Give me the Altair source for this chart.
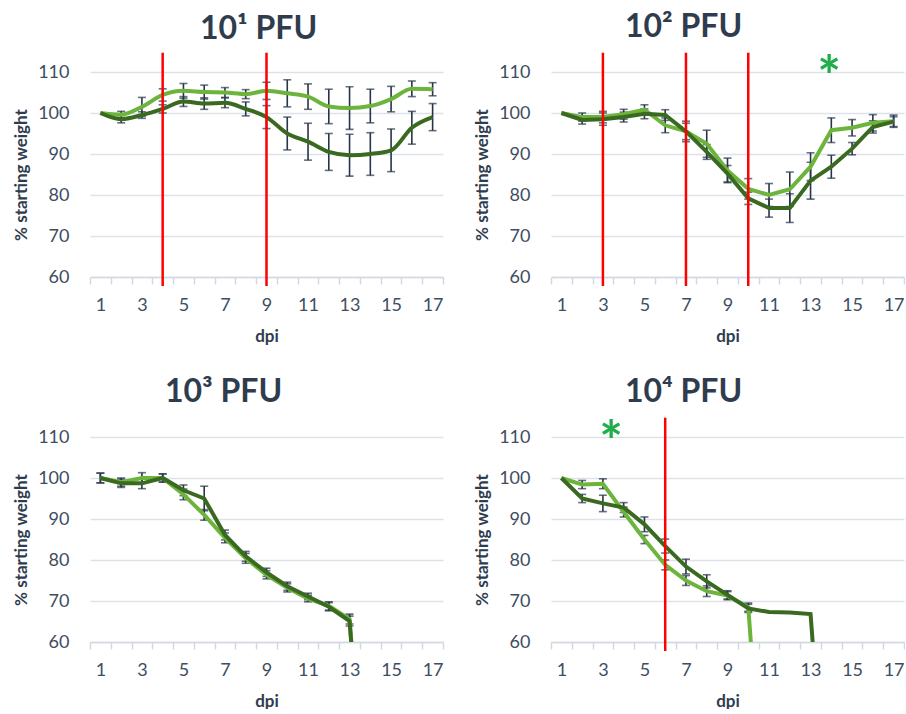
import altair as alt
import pandas as pd

# ---------------- data ----------------
DAYS = list(range(1, 18))
TITLES = ["10¹ PFU", "10² PFU", "10³ PFU", "10⁴ PFU"]

P1_LIGHT = [100, 99.6, 101.5, 104.4, 105.4, 105.1, 105.0, 104.6, 105.4, 104.8, 104.0, 101.6, 101.2, 101.7, 103.4, 105.9, 105.8]
P1_LIGHT_ERR = [0, 0.8, 2.3, 1.5, 1.8, 1.7, 1.2, 1.1, 2.1, 3.3, 3.1, 4.2, 5.2, 4.1, 3.1, 1.9, 1.6]
P1_DARK = [100, 98.5, 99.5, 101.0, 102.8, 102.3, 102.5, 101.0, 99.0, 95.0, 93.0, 90.5, 89.7, 90.0, 90.9, 96.4, 99.0]
P1_DARK_ERR = [0, 0.9, 0.8, 1.0, 1.2, 1.4, 1.2, 1.7, 2.8, 4.0, 4.5, 4.5, 5.1, 5.2, 5.2, 4.0, 3.3]

P2_LIGHT = [100, 99.0, 99.0, 99.7, 100.8, 97.0, 95.5, 92.5, 86.0, 81.5, 80.0, 81.4, 86.9, 95.8, 96.4, 97.6, 98.0]
P2_LIGHT_ERR = [0, 1.0, 1.4, 1.2, 1.2, 1.8, 2.5, 3.3, 3.0, 2.5, 2.8, 4.2, 3.4, 3.0, 2.0, 2.0, 1.5]
P2_DARK = [100, 98.3, 98.5, 99.0, 99.8, 99.5, 95.5, 90.5, 85.2, 79.2, 76.8, 76.8, 83.5, 86.9, 91.3, 96.6, 97.9]
P2_DARK_ERR = [0, 1.0, 1.5, 1.2, 1.2, 1.3, 2.0, 1.8, 2.0, 1.5, 2.2, 3.5, 4.5, 2.8, 1.5, 1.5, 1.2]

P3_LIGHT = [100, 99.0, 100.0, 100.0, 96.0, 91.0, 85.4, 80.4, 76.4, 73.2, 70.6, 68.8, 65.6, 0]
P3_LIGHT_ERR = [1.2, 1.0, 1.3, 1.0, 1.3, 1.3, 1.2, 1.2, 1.0, 1.0, 0.8, 1.0, 1.2, 0]
P3_DARK = [100, 98.7, 98.7, 100.0, 97.0, 95.0, 86.1, 80.9, 77.0, 73.6, 71.1, 68.6, 65.1, 0]
P3_DARK_ERR = [1.2, 1.0, 1.3, 1.0, 1.3, 3.0, 1.2, 1.2, 1.0, 1.0, 0.8, 1.0, 1.2, 0]

P4_LIGHT = [100, 98.4, 98.6, 91.7, 85.0, 78.8, 75.0, 72.4, 71.3, 68.5, 0]
P4_LIGHT_ERR = [0, 1.0, 1.2, 1.2, 1.0, 1.2, 1.2, 1.3, 1.0, 1.0, 0]
P4_DARK = [100, 95.0, 93.8, 92.8, 88.7, 83.4, 78.4, 74.8, 71.5, 68.2, 67.3, 67.2, 66.8, 0]
P4_DARK_ERR = [0, 1.0, 2.0, 1.2, 1.8, 1.7, 1.8, 1.6, 1.0, 1.0, 0, 0, 0, 0]

LIGHT = [P1_LIGHT, P2_LIGHT, P3_LIGHT, P4_LIGHT]
LIGHT_ERR = [P1_LIGHT_ERR, P2_LIGHT_ERR, P3_LIGHT_ERR, P4_LIGHT_ERR]
DARK = [P1_DARK, P2_DARK, P3_DARK, P4_DARK]
DARK_ERR = [P1_DARK_ERR, P2_DARK_ERR, P3_DARK_ERR, P4_DARK_ERR]

RED_LINES = [[4, 9], [3, 7, 10], [], [6]]
STAR_DAY = [None, 13.9, None, 3.4]
STAR_Y = [None, 111.2, None, 111.2]
Y_TICKS = [60, 70, 80, 90, 100, 110]
X_TICKS = [v / 2 for v in range(1, 36)]  # 0.5 .. 17.5

# ---------------- style ----------------
C_LIGHT = "#6DB43C"
C_DARK = "#3A6A1F"
C_ERR = "#26354A"
C_RED = "#FF0000"
C_STAR = "#1FAE4B"
C_TEXT = "#3E4D60"
C_TITLE = "#2F3C4E"
FONT = "Lato"
TITLE_DX = [-8, -44, -43, -44]
TITLE_OFFSET = [5, 7, 19, 7]

xscale = alt.Scale(domain=[0.5, 17.5], nice=False, zero=False)
yscale = alt.Scale(domain=[60, 110], nice=False, zero=False)

xaxis = alt.Axis(
    values=X_TICKS,
    labelExpr="datum.value % 2 == 1 ? '' + datum.value : ''",
    labelOverlap=False,
    grid=False,
    domainColor="#D3D8DF",
    domainWidth=1.5,
    tickColor="#D3D8DF",
    tickWidth=1.5,
    tickSize=7,
    tickOpacity={"condition": {"test": "datum.value % 1 != 0", "value": 1}, "value": 0},
    labelFont=FONT,
    labelFontSize=18,
    labelColor=C_TEXT,
    labelPadding=12,
    titleFont=FONT,
    titleFontSize=17,
    titleFontWeight="bold",
    titleColor=C_TITLE,
    titlePadding=14,
)
yaxis = alt.Axis(
    values=Y_TICKS,
    grid=True,
    gridColor="#DDE2E9",
    gridWidth=1.5,
    domain=False,
    ticks=False,
    labelFont=FONT,
    labelFontSize=18,
    labelColor=C_TEXT,
    labelPadding=21,
    titleFont=FONT,
    titleFontSize=17,
    titleFontWeight="bold",
    titleColor=C_TITLE,
    titlePadding=7,
)


def X(field):
    return alt.X(field, type="quantitative", scale=xscale, axis=xaxis, title="dpi")


def Y(field):
    return alt.Y(field, type="quantitative", scale=yscale, axis=yaxis, title="% starting weight")


def panel(i):
    rows = []
    for name, vals, errs in (("light", LIGHT[i], LIGHT_ERR[i]), ("dark", DARK[i], DARK_ERR[i])):
        for d, v, e in zip(DAYS, vals, errs):
            rows.append({"series": name, "day": d, "value": v, "err": e,
                         "lo": v - e, "hi": v + e})
    df = pd.DataFrame(rows)
    base = alt.Chart(df)

    lines = base.mark_line(clip=True, strokeWidth=4, interpolate="monotone" if i == 0 else "linear").encode(
        x=X("day"), y=Y("value"),
        color=alt.Color("series:N", scale=alt.Scale(domain=["light", "dark"], range=[C_LIGHT, C_DARK]), legend=None),
        detail="series:N",
    )
    errs = base.transform_filter("datum.err > 0")
    bars = errs.mark_rule(color=C_ERR, strokeWidth=1.6).encode(
        x=X("day"), y=Y("lo"), y2="hi:Q"
    )
    caps_hi = errs.mark_tick(color=C_ERR, orient="horizontal", size=8, thickness=1.6).encode(
        x=X("day"), y=Y("hi")
    )
    caps_lo = errs.mark_tick(color=C_ERR, orient="horizontal", size=8, thickness=1.6).encode(
        x=X("day"), y=Y("lo")
    )
    layers = [bars, caps_hi, caps_lo, lines]

    if RED_LINES[i]:
        rdf = pd.DataFrame({"day": RED_LINES[i], "top": [114.7] * len(RED_LINES[i]), "bottom": [57.8] * len(RED_LINES[i])})
        layers.append(alt.Chart(rdf).mark_rule(color=C_RED, strokeWidth=2.5).encode(
            x=X("day"), y=Y("top"), y2="bottom:Q"))
    if STAR_DAY[i] is not None:
        sdf = pd.DataFrame({"day": [STAR_DAY[i]], "value": [STAR_Y[i]], "label": ["*"]})
        layers.append(alt.Chart(sdf).mark_text(color=C_STAR, fontSize=56, fontWeight="bold", font=FONT,
                                               baseline="middle", dy=12).encode(
            x=X("day"), y=Y("value"), text="label:N"))

    return alt.layer(*layers).properties(
        width=353, height=205,
        title=alt.TitleParams(text=TITLES[i], font=FONT, fontSize=32, fontWeight="bold", color=C_TITLE,
                              anchor="middle", frame="group", dx=TITLE_DX[i], offset=TITLE_OFFSET[i]),
    )


chart = alt.concat(panel(0), panel(1), panel(2), panel(3), columns=2,
                   spacing={"row": 160, "column": 108}, bounds="flush").properties(
    padding={"left": 12, "top": 11, "right": 0, "bottom": 0},
    background="white",
).configure_view(stroke=None)

chart.save("out.html", embed_options={"renderer": "svg", "actions": False})
